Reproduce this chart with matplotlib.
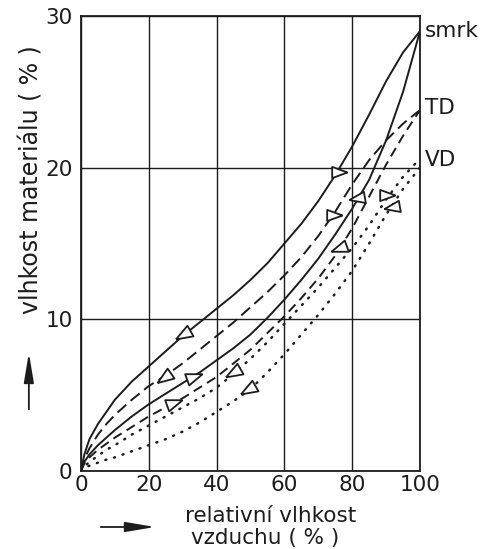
import numpy as np
import matplotlib.pyplot as plt
from matplotlib.patches import FancyArrowPatch

# relative air humidity (%) at which the curves were read
RH = [0, 1, 2.5, 5, 7.5, 10, 15, 20, 25, 30, 35, 40, 45, 50, 55, 60, 65, 70, 75, 80, 85, 90, 95, 100]

# material moisture (%) - desorption (upper) and adsorption (lower) branches
smrk_des = [0, 1.1, 2.1, 3.1, 3.9, 4.7, 5.9, 6.9, 7.9, 8.9, 9.8, 10.7, 11.6, 12.6, 13.7, 15.0,
            16.3, 17.8, 19.5, 21.4, 23.5, 25.7, 27.6, 29.0]
smrk_ads = [0, 0.6, 1.1, 1.7, 2.2, 2.7, 3.6, 4.4, 5.1, 5.8, 6.5, 7.3, 8.1, 9.0, 10.1, 11.3,
            12.6, 14.0, 15.6, 17.3, 19.2, 21.8, 25.0, 29.0]
td_des = [0, 0.8, 1.5, 2.4, 3.1, 3.7, 4.7, 5.6, 6.3, 7.1, 8.0, 8.9, 9.8, 10.8, 11.8, 12.9,
          14.1, 15.5, 17.1, 18.9, 20.5, 21.8, 22.9, 23.8]
td_ads = [0, 0.5, 0.9, 1.4, 1.8, 2.2, 2.9, 3.6, 4.2, 4.8, 5.5, 6.2, 7.1, 8.0, 9.1, 10.2,
          11.4, 12.7, 14.2, 16.0, 18.1, 20.2, 22.1, 23.8]
vd_des = [0, 0.3, 0.6, 1.0, 1.4, 1.7, 2.4, 3.0, 3.6, 4.2, 4.8, 5.5, 6.4, 7.4, 8.5, 9.7,
          10.9, 12.1, 13.4, 14.7, 16.2, 17.9, 19.4, 20.6]
vd_ads = [0, 0.2, 0.35, 0.55, 0.75, 0.9, 1.3, 1.7, 2.1, 2.6, 3.2, 3.9, 4.6, 5.4, 6.5, 7.7,
          9.0, 10.3, 11.7, 13.2, 15.0, 16.9, 18.6, 20.0]

# direction triangles on the curves: position and pointing angle (deg)
arrow_x = [30.4, 75.8, 24.8, 74.3, 33.1, 81.8, 27.2, 76.4, 45.2, 90.0, 49.6, 92.0]
arrow_y = [9.0, 19.7, 6.2, 16.9, 6.2, 18.0, 4.45, 14.7, 6.5, 18.2, 5.4, 17.4]
arrow_dir = [210, 0, 215, 0, 20, 190, 20, 200, 210, 0, 210, 190]

series_names = ["smrk", "TD", "VD"]
series_label_y = [29.0, 23.9, 20.5]

INK = "#1c1c1c"


def triangle(direction):
    a = np.deg2rad(direction)
    pts = np.array([[1.0, 0.0], [-0.7, 0.62], [-0.7, -0.62], [1.0, 0.0]])
    rot = np.array([[np.cos(a), -np.sin(a)], [np.sin(a), np.cos(a)]])
    return pts @ rot.T


plt.rcParams.update({"font.family": "DejaVu Sans"})
fig = plt.figure(figsize=(4.81, 5.49), dpi=100)
fig.patch.set_facecolor("white")
ax = fig.add_axes([0.1684, 0.1421, 0.7048, 0.8288])

ax.plot(RH, smrk_des, color=INK, lw=1.4)
ax.plot(RH, smrk_ads, color=INK, lw=1.4)
ax.plot(RH, td_des, color=INK, lw=1.4, dashes=(6, 3))
ax.plot(RH, td_ads, color=INK, lw=1.4, dashes=(5, 3))
ax.plot(RH, vd_des, color=INK, lw=1.8, dashes=(0.4, 3.2), dash_capstyle="round")
ax.plot(RH, vd_ads, color=INK, lw=1.8, dashes=(0.4, 3.2), dash_capstyle="round")

for x, y, d in zip(arrow_x, arrow_y, arrow_dir):
    ax.plot(x, y, marker=triangle(d), ms=13, mfc="white", mec=INK, mew=1.3, zorder=5)

ax.set_xlim(0, 100)
ax.set_ylim(0, 30)
ax.set_xticks([0, 20, 40, 60, 80, 100])
ax.set_yticks([0, 10, 20, 30])
ax.grid(True, color=INK, lw=1.0)
ax.set_axisbelow(True)
ax.tick_params(length=0, labelsize=15.5, colors=INK)
ax.tick_params(axis="y", pad=6)
ax.tick_params(axis="x", pad=3)
for sp in ax.spines.values():
    sp.set_color(INK)
    sp.set_linewidth(1.3)

for name, y in zip(series_names, series_label_y):
    ax.text(101.5, y, name, fontsize=15.5, color=INK, ha="left", va="center", clip_on=False)

fig.text(0.066, 0.672, "vlhkost materiálu ( % )", rotation=90, ha="center", va="center",
         fontsize=17, color=INK)
fig.text(0.563, 0.060, "relativní vlhkost", ha="center", va="center", fontsize=15.5, color=INK)
fig.text(0.551, 0.020, "vzduchu ( % )", ha="center", va="center", fontsize=15.5, color=INK)

arrow_kw = dict(arrowstyle="-|>,head_length=1.8,head_width=0.3", mutation_scale=10,
                color=INK, lw=1.3, transform=fig.transFigure)
fig.patches.append(FancyArrowPatch((0.060, 1 - 412 / 549), (0.060, 1 - 350 / 549), **arrow_kw))
fig.patches.append(FancyArrowPatch((98 / 481, 1 - 527 / 549), (158 / 481, 1 - 527 / 549), **arrow_kw))

fig.savefig("out.png", dpi=100, facecolor="white")
